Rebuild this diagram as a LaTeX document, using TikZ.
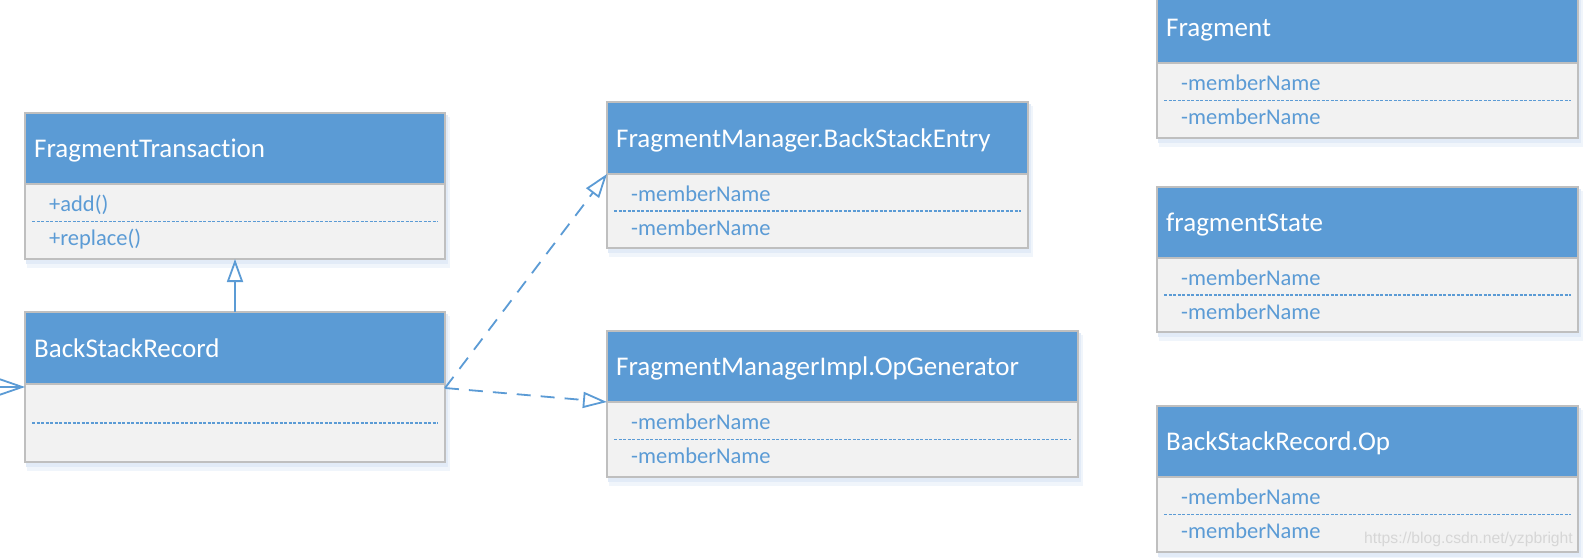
\documentclass[tikz,border=0pt]{standalone}
\usepackage{fontspec}
\setmainfont{Carlito}[Ligatures={NoCommon}]
\newfontfamily\wmfont{Liberation Sans}
\usetikzlibrary{arrows.meta}
\definecolor{hdr}{HTML}{5B9BD5}
\definecolor{bodyc}{HTML}{F2F2F2}
\definecolor{bord}{HTML}{BFBFBF}
\definecolor{shadA}{HTML}{E2EBF7}
\definecolor{shadB}{HTML}{F0F5FB}
\definecolor{wmc}{HTML}{D6D6D6}
\tikzset{
  hdrbox/.style={draw=bord, fill=hdr, line width=1.6pt, inner sep=0pt, outer sep=0pt, anchor=north west},
  bodybox/.style={draw=bord, fill=bodyc, line width=1.6pt, inner sep=0pt, outer sep=0pt, anchor=north west},
  titletxt/.style={text=white, font=\fontsize{27}{32}\selectfont, inner sep=0pt, anchor=base west},
  memtxt/.style={text=hdr, font=\fontsize{22.5}{27}\selectfont, inner sep=0pt, anchor=base west},
  sepline/.style={draw=hdr, line width=1.4pt, dash pattern=on 3pt off 1.5pt},
  conn/.style={draw=hdr, line width=1.8pt},
  dashconn/.style={conn, dash pattern=on 14pt off 10pt, -{Triangle[open, length=24pt, width=16pt]}},
  genconn/.style={conn, -{Triangle[open, length=23pt, width=16pt]}},
  inconn/.style={conn, -{Straight Barb[length=26pt, width=18pt]}},
  wmtxt/.style={text=wmc, font=\wmfont\fontsize{15.7}{18}\selectfont, inner sep=0pt, anchor=base east}
}
% name, left, right, top, header bottom, bottom, title
\newcommand{\umlbox}[7]{%
  \fill[shadB] (#2+2,#4+4) rectangle (#3+5,#6+9);
  \fill[shadA] (#2+1,#4+2) rectangle (#3+3,#6+5);
  \node[hdrbox, minimum width={(#3-#2)*1pt}, minimum height={(#5-#4)*1pt}] (#1-h) at (#2,#4) {};
  \node[bodybox, minimum width={(#3-#2)*1pt}, minimum height={(#6-#5)*1pt}] (#1-b) at (#2,#5) {};
  \draw[sepline] (#2+7,{(#5+#6)/2}) -- (#3-7,{(#5+#6)/2});
  \node[titletxt] (#1-t) at (#2+9,#5-27) {#7};
}
% name, left, header bottom, member1, member2
\newcommand{\umlmembers}[5]{%
  \node[memtxt] (#1-m1) at (#2+24,#3+27) {#4};
  \node[memtxt] (#1-m2) at (#2+24,#3+61) {#5};
}
\begin{document}
\begin{tikzpicture}[x=1pt, y=-1pt]
\useasboundingbox (0,0) rectangle (1584,557);
\fill[white] (0,0) rectangle (1584,557);
\clip (0,0) rectangle (1584,557);

\umlbox{ft}{25}{445}{113}{184}{259}{FragmentTransaction}
\umlmembers{ft}{25}{184}{+add()}{+replace()}
\umlbox{bsr}{25}{445}{312}{384}{462}{BackStackRecord}
\umlbox{bse}{607}{1028}{102}{174}{248}{FragmentManager.BackStackEntry}
\umlmembers{bse}{607}{174}{-memberName}{-memberName}
\umlbox{opg}{607}{1078}{331}{402}{477}{FragmentManagerImpl.OpGenerator}
\umlmembers{opg}{607}{402}{-memberName}{-memberName}
\umlbox{frag}{1157}{1578}{-8}{63}{138}{Fragment}
\umlmembers{frag}{1157}{63}{-memberName}{-memberName}
\umlbox{fst}{1157}{1578}{187}{258}{332}{fragmentState}
\umlmembers{fst}{1157}{258}{-memberName}{-memberName}
\umlbox{bsro}{1157}{1578}{406}{477}{552}{BackStackRecord.Op}
\umlmembers{bsro}{1157}{477}{-memberName}{-memberName}

\node[wmtxt] (wm) at (1573,543) {https://blog.csdn.net/yzpbright};

% connectors
\coordinate (bsrout) at ([yshift=-4pt]bsr-b.north east);
\coordinate (extin) at (-20,387);
\draw[genconn] (bsr-h.north) -- (ft-b.south);
\draw[dashconn] (bsrout) -- (bse-b.north west);
\draw[dashconn] (bsrout) -- (opg-b.north west);
\draw[inconn] (extin) -- ([yshift=-3pt]bsr-b.north west);
\end{tikzpicture}
\end{document}
